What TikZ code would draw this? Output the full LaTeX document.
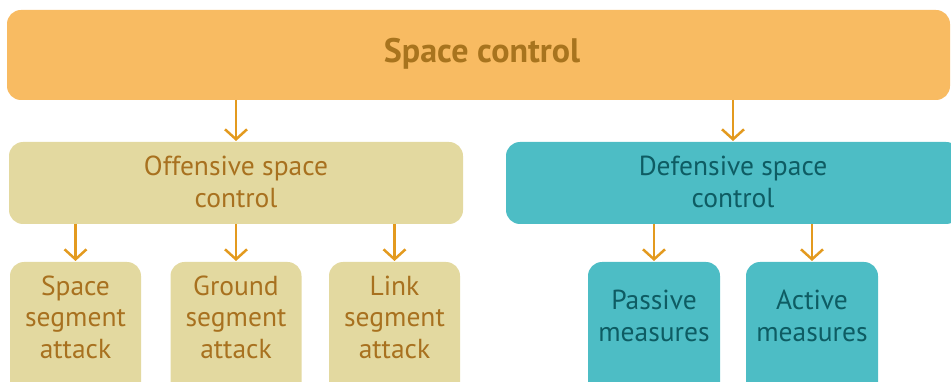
\documentclass[tikz,border=0pt]{standalone}
\usepackage{fontspec}
\setmainfont{PT Sans}
\usetikzlibrary{arrows.meta}
\definecolor{topfill}{HTML}{F8BB62}
\definecolor{toptext}{HTML}{A8741E}
\definecolor{offfill}{HTML}{E3D9A0}
\definecolor{offtext}{HTML}{A8711F}
\definecolor{deffill}{HTML}{4DBDC5}
\definecolor{deftext}{HTML}{0E5C63}
\definecolor{arrowcol}{HTML}{E39A1F}
\tikzset{
  box/.style={rounded corners=14pt, inner sep=0pt, outer sep=0pt},
  offbox/.style={box, fill=offfill},
  defbox/.style={box, fill=deffill},
  lbl/.style={align=center, inner sep=0pt, font=\fontsize{27.5}{31.5}\selectfont},
  offlbl/.style={lbl, text=offtext},
  deflbl/.style={lbl, text=deftext},
  arr/.style={draw=arrowcol, line width=2.5pt,
    -{Straight Barb[length=10pt, width=22pt, line width=2.5pt]}, shorten >=1pt}
}
\begin{document}
\begin{tikzpicture}[x=1pt, y=-1pt]
\useasboundingbox (0,0) rectangle (951,382);
\clip (0,0) rectangle (951,382);

% top level
\node[box, fill=topfill, minimum width=943pt, minimum height=90pt] (top) at (478.5,55) {};
\node[inner sep=0pt, anchor=base, text=toptext, font=\fontsize{34}{38}\selectfont\bfseries] (toplbl) at (482,63) {Space control};

% second level
\node[offbox, minimum width=454pt, minimum height=82pt] (off) at (236,183) {};
\node[offlbl] (offlbl) at (236,182) {Offensive space\\control};
\node[defbox, minimum width=454pt, minimum height=82pt] (def) at (733,183) {};
\node[deflbl] (deflbl) at (733,182) {Defensive space\\control};

% third level, offensive branch
\node[offbox, minimum width=131pt, minimum height=150pt] (sp) at (75.5,337) {};
\node[offlbl] (splbl) at (75.5,317) {Space\\segment\\attack};
\node[offbox, minimum width=131pt, minimum height=150pt] (gr) at (236,337) {};
\node[offlbl] (grlbl) at (236,317) {Ground\\segment\\attack};
\node[offbox, minimum width=131pt, minimum height=150pt] (lk) at (394.5,337) {};
\node[offlbl] (lklbl) at (394.5,317) {Link\\segment\\attack};

% third level, defensive branch
\node[defbox, minimum width=132pt, minimum height=150pt] (pas) at (654,337) {};
\node[deflbl] (paslbl) at (654,316) {Passive\\measures};
\node[defbox, minimum width=132pt, minimum height=150pt] (act) at (812,337) {};
\node[deflbl] (actlbl) at (812,316) {Active\\measures};

% connectors
\draw[arr] (top.south -| off.north) -- (off.north);
\draw[arr] (top.south -| def.north) -- (def.north);
\draw[arr] (off.south -| sp.north) -- (sp.north);
\draw[arr] (off.south -| gr.north) -- (gr.north);
\draw[arr] (off.south -| lk.north) -- (lk.north);
\draw[arr] (def.south -| pas.north) -- (pas.north);
\draw[arr] (def.south -| act.north) -- (act.north);
\end{tikzpicture}
\end{document}
